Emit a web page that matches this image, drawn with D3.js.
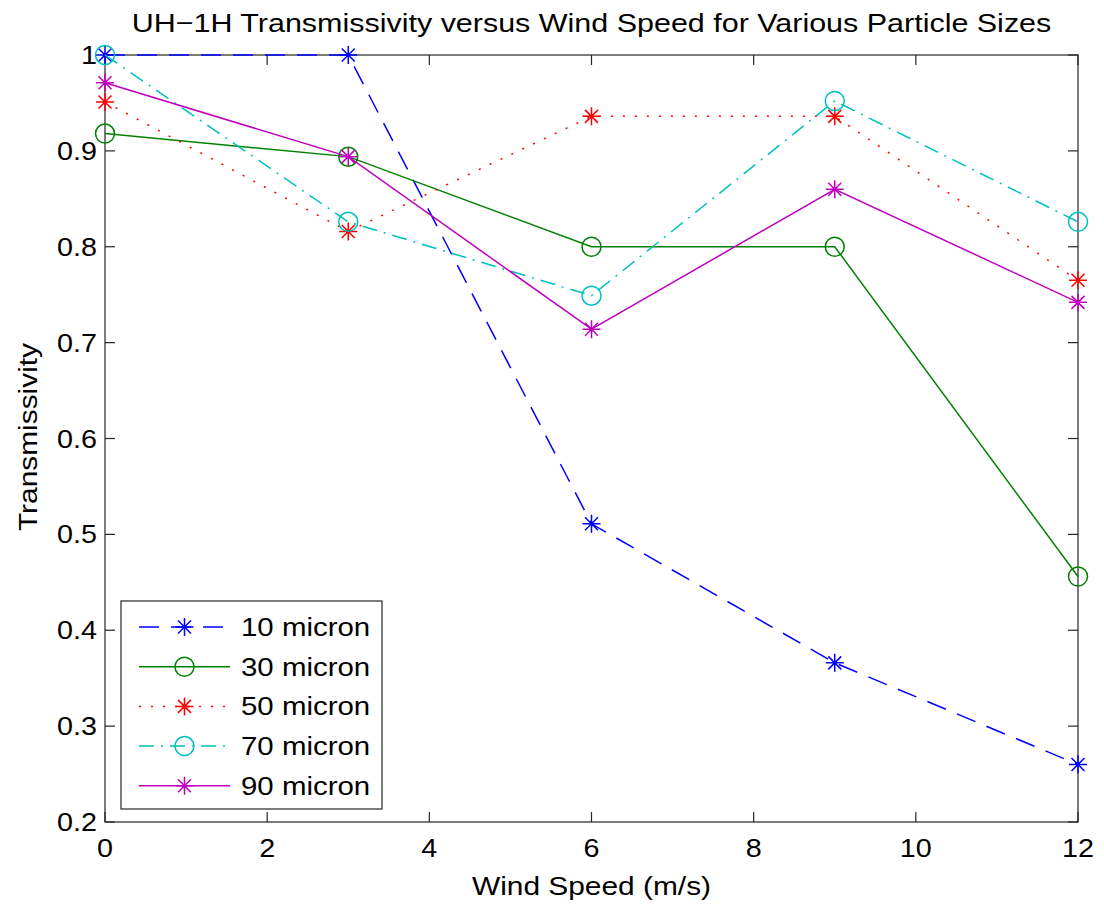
<!DOCTYPE html>
<html>
<head>
<meta charset="utf-8">
<script src="https://cdn.jsdelivr.net/npm/d3@7"></script>
<style>
  body { margin: 0; background: #fff; }
  text { font-family: "Liberation Sans", Arial, sans-serif; fill: #000; }
</style>
</head>
<body>
<div id="chart"></div>
<script>
// Data
const windSpeeds = [0, 3, 6, 9, 12];
const micron10 = [1.0, 1.0, 0.511, 0.366, 0.26];
const micron30 = [0.918, 0.894, 0.80, 0.80, 0.456];
const micron50 = [0.951, 0.816, 0.936, 0.936, 0.765];
const micron70 = [1.0, 0.826, 0.749, 0.952, 0.826];
const micron90 = [0.971, 0.894, 0.714, 0.86, 0.742];
const seriesNames = ["10 micron", "30 micron", "50 micron", "70 micron", "90 micron"];
const xTicks = [0, 2, 4, 6, 8, 10, 12];
const yTicks = [0.2, 0.3, 0.4, 0.5, 0.6, 0.7, 0.8, 0.9, 1];

const series = [
  { name: seriesNames[0], values: micron10, color: "#0000ff", dash: "20,12", marker: "star" },
  { name: seriesNames[1], values: micron30, color: "#008000", dash: null, marker: "circle" },
  { name: seriesNames[2], values: micron50, color: "#ff0000", dash: "2,10", marker: "star" },
  { name: seriesNames[3], values: micron70, color: "#00bfbf", dash: "15,7,2,7", marker: "circle" },
  { name: seriesNames[4], values: micron90, color: "#bf00bf", dash: null, marker: "star" }
];

// Set graph margins and dimensions
const margin = { top: 55, right: 26, bottom: 85, left: 105 },
  width = 1104 - margin.left - margin.right,
  height = 907 - margin.top - margin.bottom;
const fs = 25, sx = 1.15;

const x = d3.scaleLinear().domain([0, 12]).range([0, width]);
const y = d3.scaleLinear().domain([0.2, 1]).range([height, 0]);

const svg = d3.select("#chart").append("svg")
  .attr("width", 1104)
  .attr("height", 907);
const g = svg.append("g")
  .attr("transform", "translate(" + margin.left + "," + margin.top + ")");

// helper for horizontally stretched text
function label(parent, tx, ty, str, anchor, rot, size) {
  const t = parent.append("g")
    .attr("transform", "translate(" + tx + "," + ty + ")" + (rot ? " rotate(" + rot + ")" : "") + " scale(" + sx + ",1)");
  t.append("text")
    .attr("text-anchor", anchor)
    .attr("font-size", size || fs)
    .text(str);
}

// frame and inward ticks
g.append("rect")
  .attr("width", width).attr("height", height)
  .attr("fill", "none").attr("stroke", "#262626").attr("stroke-width", 1.2);

const tl = 10;
xTicks.forEach(v => {
  g.append("line").attr("x1", x(v)).attr("x2", x(v)).attr("y1", height).attr("y2", height - tl)
    .attr("stroke", "#262626").attr("stroke-width", 1.2);
  g.append("line").attr("x1", x(v)).attr("x2", x(v)).attr("y1", 0).attr("y2", tl)
    .attr("stroke", "#262626").attr("stroke-width", 1.2);
  label(g, x(v), height + 35, d3.format("")(v), "middle");
});
yTicks.forEach(v => {
  g.append("line").attr("x1", 0).attr("x2", tl).attr("y1", y(v)).attr("y2", y(v))
    .attr("stroke", "#262626").attr("stroke-width", 1.2);
  g.append("line").attr("x1", width).attr("x2", width - tl).attr("y1", y(v)).attr("y2", y(v))
    .attr("stroke", "#262626").attr("stroke-width", 1.2);
  label(g, -8, y(v) + 9, d3.format("")(+v.toFixed(1)), "end");
});

// markers
function drawMarker(sel, type, color, cx, cy) {
  if (type === "circle") {
    sel.append("circle").attr("cx", cx).attr("cy", cy).attr("r", 9.5)
      .attr("fill", "none").attr("stroke", color).attr("stroke-width", 1.5);
  } else {
    const r = 9, d = 6.5;
    const p = "M" + (cx - r) + "," + cy + "H" + (cx + r) +
      "M" + cx + "," + (cy - r) + "V" + (cy + r) +
      "M" + (cx - d) + "," + (cy - d) + "L" + (cx + d) + "," + (cy + d) +
      "M" + (cx - d) + "," + (cy + d) + "L" + (cx + d) + "," + (cy - d);
    sel.append("path").attr("d", p).attr("stroke", color).attr("stroke-width", 1.5).attr("fill", "none");
  }
}

const line = d3.line().x(d => x(d[0])).y(d => y(d[1]));

series.forEach(s => {
  const pts = windSpeeds.map((w, i) => [w, s.values[i]]);
  g.append("path")
    .datum(pts)
    .attr("d", line)
    .attr("fill", "none")
    .attr("stroke", s.color)
    .attr("stroke-width", 1.5)
    .attr("stroke-dasharray", s.dash);
  pts.forEach(p => drawMarker(g, s.marker, s.color, x(p[0]), y(p[1])));
});

// legend
const lg = svg.append("g").attr("transform", "translate(121,601)");
lg.append("rect").attr("width", 261).attr("height", 208)
  .attr("fill", "#fff").attr("stroke", "#262626").attr("stroke-width", 1.2);
series.forEach((s, i) => {
  const ly = 26 + i * 39.7;
  lg.append("line").attr("x1", 18).attr("x2", 109).attr("y1", ly).attr("y2", ly)
    .attr("stroke", s.color).attr("stroke-width", 1.5).attr("stroke-dasharray", s.dash);
  drawMarker(lg, s.marker, s.color, 63.5, ly);
  label(lg, 120, ly + 9, s.name, "start", null, 25.6);
});

// title and axis labels
label(svg, margin.left + width / 2, 32, "UH\u22121H Transmissivity versus Wind Speed for Various Particle Sizes", "middle", null, 26.5);
label(svg, margin.left + width / 2, 895, "Wind Speed (m/s)", "middle", null, 26);
label(svg, 37, 437, "Transmissivity", "middle", -90, 26);
</script>
</body>
</html>
